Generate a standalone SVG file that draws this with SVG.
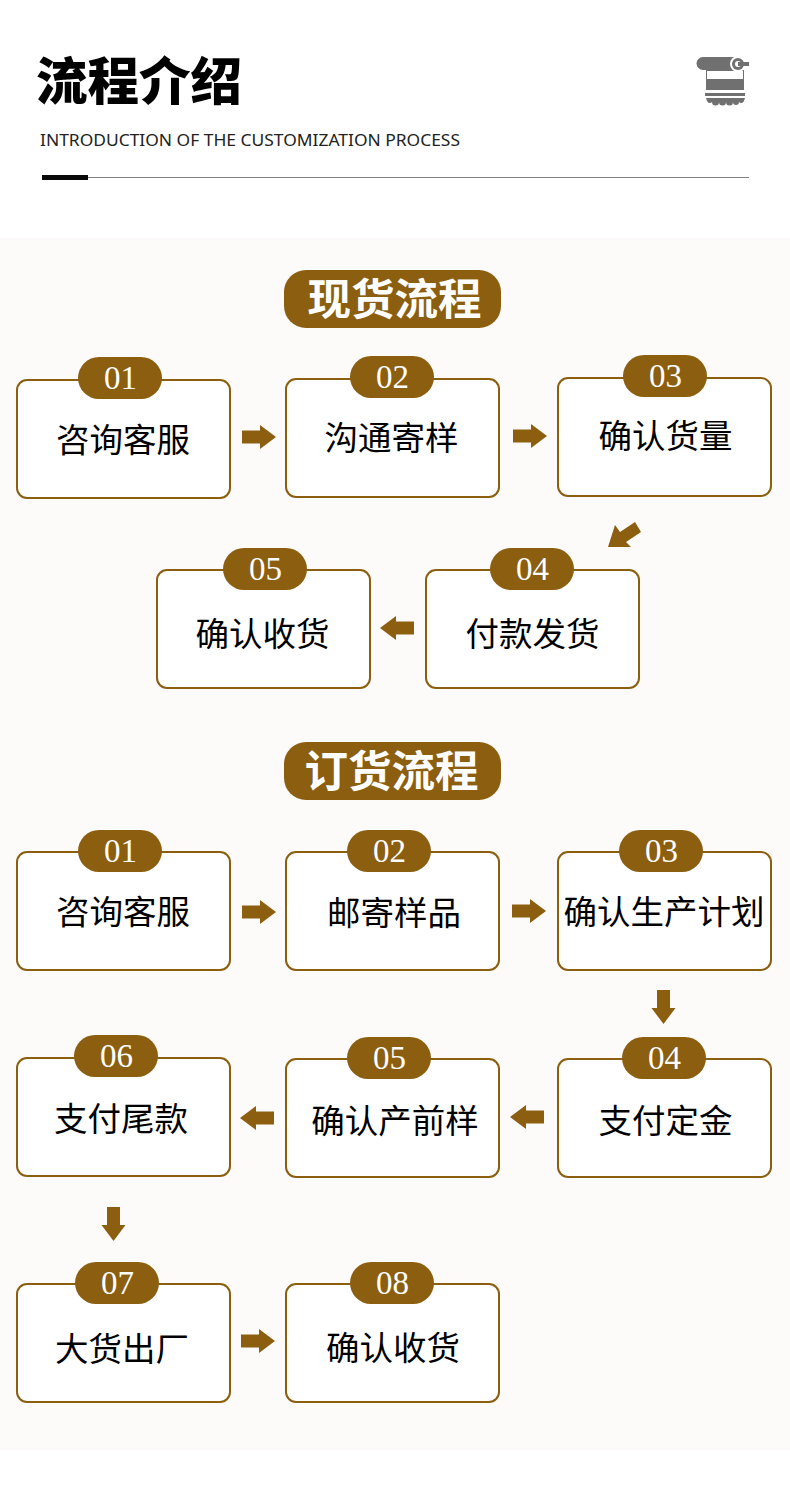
<svg xmlns="http://www.w3.org/2000/svg" width="790" height="1491" viewBox="0 0 790 1491">
<style>
.box{fill:#fff;stroke:#8b5e10;stroke-width:2}
.pill{fill:#8b5e10}
.num{font-family:"Liberation Serif",serif;font-size:33px;fill:#fff;text-anchor:middle}
.lab{font-family:"Noto Sans CJK SC",sans-serif;font-size:33.5px;font-weight:400;fill:#000;text-anchor:middle}
.head{font-family:"Noto Sans CJK SC",sans-serif;font-size:43.5px;font-weight:700;fill:#fff;text-anchor:middle}
.arr{fill:#8b5e10}
.ico{fill:#707070}
</style>
<defs>
<path id="a" d="M0,-6.500H18V-12L34,0L18,12V6.500H0Z"/>
<rect id="n" class="box" x="0" y="0" width="213" height="118" rx="10"/>
</defs>
<rect width="790" height="1491" fill="#fff"/>
<rect y="238" width="790" height="1212" fill="#fdfbfa"/>
<g id="title">
<text x="36" y="100" font-family="'Noto Sans CJK SC',sans-serif" font-size="51.500" font-weight="900" fill="#000">流程介绍</text>
<text x="40" y="146" font-family="'Noto Sans','Open Sans',sans-serif" font-size="17" font-weight="400" fill="#222" textLength="420" lengthAdjust="spacingAndGlyphs">INTRODUCTION OF THE CUSTOMIZATION PROCESS</text>
<rect x="88" y="177" width="661" height="1" fill="#808080"/>
<rect x="42" y="175" width="46" height="5" fill="#0a0a0a"/>
</g>
<g id="icon">
<rect class="ico" x="706" y="70" width="38" height="20"/>
<rect x="707" y="71" width="36" height="8" fill="#fff"/>
<path class="ico" d="M703,57H736V70H703A6.500,6.500 0 0 1 703,57Z"/>
<circle cx="738" cy="64" r="8" fill="#fff"/>
<circle class="ico" cx="738" cy="64" r="6"/>
<circle cx="738" cy="64" r="3" fill="#fff"/>
<rect class="ico" x="738" y="62" width="11" height="4"/>
<rect class="ico" x="705" y="93" width="40" height="3"/>
<path class="ico" d="M706,98H745L744,101A3,3 0 0 1 739,102A3,3 0 0 1 733,102A3,3 0 0 1 726,102A3,3 0 0 1 719,102A3,3 0 0 1 712,102A3,3 0 0 1 707,101Z"/>
</g>
<g id="section-spot">
<rect class="pill" x="284" y="270" width="217" height="58" rx="22"/>
<text class="head" x="394.500" y="315">现货流程</text>
</g>
<g id="section-order">
<rect class="pill" x="284" y="742" width="217" height="58" rx="22"/>
<text class="head" x="391.500" y="787">订货流程</text>
</g>
<g id="connectors">
<use class="arr" href="#a" transform="translate(242,437)"/>
<use class="arr" href="#a" transform="translate(513,436)"/>
<polygon class="arr" points="608,547 615,525 620,532 635,522 641,532 626,542 631,547"/>
<use class="arr" href="#a" transform="translate(414,628) rotate(180)"/>
<use class="arr" href="#a" transform="translate(242,912)"/>
<use class="arr" href="#a" transform="translate(512,911)"/>
<use class="arr" href="#a" transform="translate(663.500,990) rotate(90)"/>
<use class="arr" href="#a" transform="translate(544,1117) rotate(180)"/>
<use class="arr" href="#a" transform="translate(274,1118) rotate(180)"/>
<use class="arr" href="#a" transform="translate(113.500,1207) rotate(90)"/>
<use class="arr" href="#a" transform="translate(241,1341)"/>
</g>
<g id="spot-01"><use href="#n" x="17" y="380"/><rect class="pill" x="78" y="357" width="84" height="42" rx="21"/><text class="num" x="120.500" y="389">01</text><text class="lab" x="123" y="452">咨询客服</text></g>
<g id="spot-02"><use href="#n" x="286" y="379"/><rect class="pill" x="350" y="356" width="84" height="42" rx="21"/><text class="num" x="392.500" y="388">02</text><text class="lab" x="391.500" y="450">沟通寄样</text></g>
<g id="spot-03"><use href="#n" x="558" y="378"/><rect class="pill" x="623" y="355" width="84" height="42" rx="21"/><text class="num" x="665.500" y="387">03</text><text class="lab" x="665.500" y="448">确认货量</text></g>
<g id="spot-04"><use href="#n" x="426" y="570"/><rect class="pill" x="490" y="548" width="84" height="42" rx="21"/><text class="num" x="532.500" y="580">04</text><text class="lab" x="532.500" y="646">付款发货</text></g>
<g id="spot-05"><use href="#n" x="157" y="570"/><rect class="pill" x="223" y="548" width="84" height="42" rx="21"/><text class="num" x="265.500" y="580">05</text><text class="lab" x="262.500" y="646">确认收货</text></g>
<g id="order-01"><use href="#n" x="17" y="852"/><rect class="pill" x="78" y="830" width="84" height="42" rx="21"/><text class="num" x="120.500" y="862">01</text><text class="lab" x="123" y="924">咨询客服</text></g>
<g id="order-02"><use href="#n" x="286" y="852"/><rect class="pill" x="347" y="830" width="84" height="42" rx="21"/><text class="num" x="389.500" y="862">02</text><text class="lab" x="394" y="925">邮寄样品</text></g>
<g id="order-03"><use href="#n" x="558" y="852"/><rect class="pill" x="619" y="830" width="84" height="42" rx="21"/><text class="num" x="661.500" y="862">03</text><text class="lab" x="664" y="924">确认生产计划</text></g>
<g id="order-04"><use href="#n" x="558" y="1059"/><rect class="pill" x="622" y="1037" width="84" height="42" rx="21"/><text class="num" x="664.500" y="1069">04</text><text class="lab" x="665.500" y="1133">支付定金</text></g>
<g id="order-05"><use href="#n" x="286" y="1059"/><rect class="pill" x="347" y="1037" width="84" height="42" rx="21"/><text class="num" x="389.500" y="1069">05</text><text class="lab" x="395" y="1133">确认产前样</text></g>
<g id="order-06"><use href="#n" x="17" y="1058"/><rect class="pill" x="74" y="1035" width="84" height="42" rx="21"/><text class="num" x="116.500" y="1067">06</text><text class="lab" x="121" y="1131">支付尾款</text></g>
<g id="order-07"><use href="#n" x="17" y="1284"/><rect class="pill" x="75" y="1262" width="84" height="42" rx="21"/><text class="num" x="117.500" y="1294">07</text><text class="lab" x="122" y="1361">大货出厂</text></g>
<g id="order-08"><use href="#n" x="286" y="1284"/><rect class="pill" x="350" y="1262" width="84" height="42" rx="21"/><text class="num" x="392.500" y="1294">08</text><text class="lab" x="393" y="1360">确认收货</text></g>
</svg>
